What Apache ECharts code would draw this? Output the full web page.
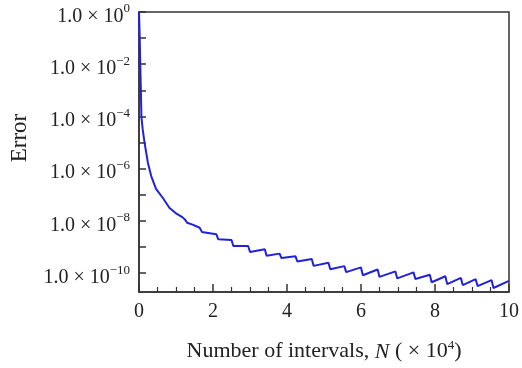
<!DOCTYPE html>
<html>
<head>
<meta charset="utf-8">
<script src="https://cdn.jsdelivr.net/npm/echarts@6/dist/echarts.min.js"></script>
<style>
  html, body { margin: 0; padding: 0; background: #fff; }
  #chart { width: 522px; height: 368px; }
</style>
</head>
<body>
<div id="chart"></div>
<script>

// number of intervals, N (x 10^4)
var nValues = [
    0, 0.02, 0.035, 0.05, 0.065, 0.10, 0.15, 0.24, 0.33, 0.46, 0.65, 0.82, 0.99, 1.17, 1.25, 1.30, 1.45, 1.64,
    1.70, 2.09, 2.14, 2.50, 2.55, 2.95, 3.00, 3.40, 3.45, 3.80, 3.85, 4.23, 4.28, 4.67, 4.72, 5.12, 5.17,
    5.55, 5.60, 6.00, 6.05, 6.45, 6.50, 6.93, 6.98, 7.42, 7.47, 7.86, 7.91, 8.28, 8.33, 8.70, 8.75,
    9.10, 9.15, 9.53, 9.58, 10.0
];

// error
var errorValues = [
    1, 1e-1, 1e-2, 1e-3, 1e-4, 3.2e-5, 1e-5, 1.7e-6, 5.2e-7, 1.7e-7, 7.4e-8, 3.2e-8, 2.0e-8, 1.4e-8, 1.1e-8, 8.5e-9, 7.2e-9, 5.5e-9,
    3.8e-9, 3.1e-9, 2.0e-9, 1.86e-9, 1.1e-9, 1.1e-9, 6.5e-10, 8.3e-10, 4.6e-10, 5.6e-10, 3.8e-10, 4.4e-10, 2.8e-10, 3.5e-10, 1.9e-10, 2.5e-10, 1.4e-10,
    1.86e-10, 1.1e-10, 1.66e-10, 8.3e-11, 1.38e-10, 7.2e-11, 1.17e-10, 6.3e-11, 1.07e-10, 6.0e-11, 8.7e-11, 4.5e-11, 7.6e-11, 3.8e-11, 6.6e-11, 3.5e-11,
    5.9e-11, 3.2e-11, 5.4e-11, 2.7e-11, 5.1e-11
];

var yTickValues = [1e-10, 1e-9, 1e-8, 1e-7, 1e-6, 1e-5, 1e-4, 1e-3, 1e-2, 1e-1, 1e0];
var yLabelValues = [1e-10, 1e-8, 1e-6, 1e-4, 1e-2, 1e0];

var serif = '"Liberation Serif", "Times New Roman", serif';

var lineData = [];
for (var i = 0; i < nValues.length; i++) {
    lineData.push([nValues[i], errorValues[i]]);
}

// "1.0 x 10^n" with a raised exponent
var formatPower = function(value) {
    var p = Math.round(Math.log10(value));
    var exp = p < 0 ? '\u2212' + (-p) : String(p);
    return '{m|1.0 \u00d7 10}{s|' + exp + '}';
}

var myChart = echarts.init(document.getElementById('chart'), null, {renderer: 'canvas'});

var option = {
    animation: false,
    backgroundColor: '#fff',
    grid: {
        left: 136, right: 9, top: 12, bottom: 76,
        show: true, borderColor: '#333', borderWidth: 1.5, backgroundColor: 'transparent'
    },
    xAxis: {
        type: 'value',
        min: 0, max: 10, interval: 2,
        name: 'Number of intervals, {i|N} ( \u00d7 10{s|4})',
        nameLocation: 'middle',
        nameGap: 47,
        nameTextStyle: {
            fontFamily: serif, fontSize: 22, color: '#222',
            rich: {
                i: {fontFamily: serif, fontSize: 22, fontStyle: 'italic', color: '#222', verticalAlign: 'bottom', lineHeight: 24},
                s: {fontFamily: serif, fontSize: 13, color: '#222', verticalAlign: 'top', lineHeight: 13}
            }
        },
        axisLine: {lineStyle: {color: '#333', width: 1.5}},
        axisTick: {inside: true, length: 8, lineStyle: {color: '#333', width: 1.5}},
        minorTick: {show: true, splitNumber: 4, length: 5, lineStyle: {color: '#333', width: 1.2}},
        splitLine: {show: false},
        axisLabel: {fontFamily: serif, fontSize: 20, color: '#222', margin: 10}
    },
    yAxis: {
        type: 'log',
        logBase: 10,
        min: 1.9e-11, max: 1,
        name: 'Error',
        nameLocation: 'middle',
        nameGap: 108,
        nameTextStyle: {fontFamily: serif, fontSize: 23, color: '#222', padding: [0, 0, 0, 28]},
        axisLine: {lineStyle: {color: '#333', width: 1.5}},
        axisTick: {inside: true, length: 7, customValues: yTickValues, lineStyle: {color: '#333', width: 1.5}},
        splitLine: {show: false},
        minorTick: {show: false},
        axisLabel: {
            customValues: yLabelValues,
            margin: 9,
            padding: [5, 0, 0, 0],
            formatter: formatPower,
            rich: {
                m: {fontFamily: serif, fontSize: 20, color: '#222', verticalAlign: 'bottom', lineHeight: 24},
                s: {fontFamily: serif, fontSize: 13, color: '#222', verticalAlign: 'top', lineHeight: 13}
            }
        }
    },
    series: [{
        type: 'line',
        data: lineData,
        showSymbol: false,
        smooth: false,
        lineStyle: {color: '#2121dc', width: 2},
        itemStyle: {color: '#2121dc'}
    }]
};

myChart.setOption(option);
</script>
</body>
</html>
